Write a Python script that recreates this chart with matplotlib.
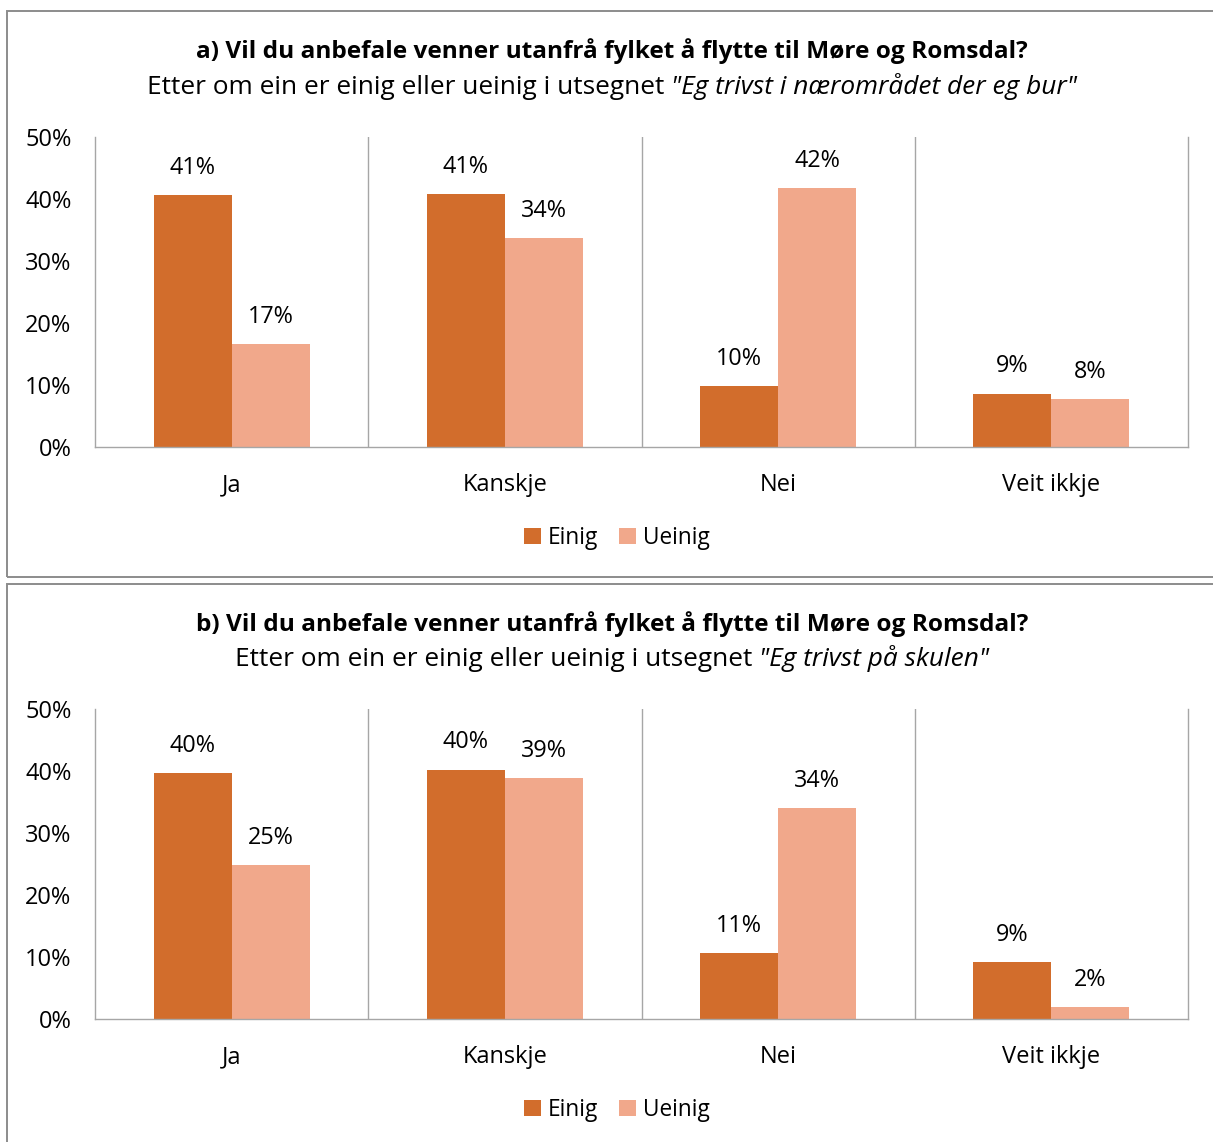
import matplotlib
matplotlib.use("Agg")
import matplotlib.pyplot as plt
from matplotlib.patches import Rectangle
import numpy as np

plt.rcParams['font.family'] = ['Open Sans', 'DejaVu Sans']

# data
categories = ["Ja", "Kanskje", "Nei", "Veit ikkje"]
series = ["Einig", "Ueinig"]
a_einig = [40.6, 40.8, 9.8, 8.6]
a_ueinig = [16.6, 33.7, 41.8, 7.7]
b_einig = [39.7, 40.2, 10.6, 9.2]
b_ueinig = [24.8, 38.9, 34.0, 1.9]
titles = ["a) Vil du anbefale venner utanfrå fylket å flytte til Møre og Romsdal?",
          "b) Vil du anbefale venner utanfrå fylket å flytte til Møre og Romsdal?"]
sub_plain = "Etter om ein er einig eller ueinig i utsegnet "
sub_italic = ['"Eg trivst i nærområdet der eg bur"', '"Eg trivst på skulen"']
yticks = [0, 10, 20, 30, 40, 50]

col_einig = "#D26D2C"
col_ueinig = "#F1A88B"
grid_col = "#A6A6A6"

W, H = 1213, 1142
fig = plt.figure(figsize=(W / 100, H / 100), dpi=100)

def fx(px):
    return px / W

def fy(py):
    return 1 - py / H

# panel borders
for top, bot in [(11, 577), (584, 1150)]:
    fig.patches.append(Rectangle((fx(7), fy(bot)), fx(1230 - 7), (bot - top) / H,
                                 transform=fig.transFigure, fill=False,
                                 edgecolor="#8C8C8C", lw=1.4))

renderer = fig.canvas.get_renderer()

def subtitle(y, italic):
    t1 = fig.text(0, fy(y), sub_plain, fontsize=18.9, va="center", ha="left")
    t2 = fig.text(0, fy(y), italic, fontsize=18.9, va="center", ha="left", style="italic")
    w1 = t1.get_window_extent(renderer).width
    w2 = t2.get_window_extent(renderer).width
    x0 = 612 - (w1 + w2) / 2
    t1.set_x(fx(x0))
    t2.set_x(fx(x0 + w1))

panels = [(a_einig, a_ueinig, 447, 51, 87, 538),
          (b_einig, b_ueinig, 1019, 624, 659, 1110)]

x = np.arange(len(categories))
bw = 78 / 273

for k, (ein, uein, y0, ty, sy, ly) in enumerate(panels):
    fig.text(fx(612), fy(ty), titles[k], fontsize=17.6, fontweight="bold",
             ha="center", va="center")
    subtitle(sy, sub_italic[k])

    ax = fig.add_axes([fx(95), fy(y0), fx(1188 - 95), 310 / H])
    b1 = ax.bar(x - bw / 2, ein, bw, color=col_einig, label=series[0])
    b2 = ax.bar(x + bw / 2, uein, bw, color=col_ueinig, label=series[1])
    for bars, vals in [(b1, ein), (b2, uein)]:
        for r, v in zip(bars, vals):
            ax.annotate(f"{round(v):d}%", (r.get_x() + r.get_width() / 2, v),
                        xytext=(0, 11), textcoords="offset points",
                        ha="center", va="bottom", fontsize=16.8)
    ax.set_xlim(-0.5, 3.5)
    ax.set_ylim(0, 50)
    ax.set_yticks(yticks)
    ax.set_yticklabels([f"{t}%" for t in yticks], fontsize=17)
    ax.set_xticks(x)
    ax.set_xticklabels(categories, fontsize=17)
    ax.tick_params(axis="both", length=0)
    ax.tick_params(axis="x", pad=19)
    ax.tick_params(axis="y", pad=17)
    for i in [0.5, 1.5, 2.5]:
        ax.axvline(i, color=grid_col, lw=1)
    ax.spines["top"].set_visible(False)
    for s in ["left", "right", "bottom"]:
        ax.spines[s].set_color(grid_col)
        ax.spines[s].set_linewidth(1)
    ax.legend(loc="center", bbox_to_anchor=(fx(617), fy(ly)),
              bbox_transform=fig.transFigure, ncol=2, frameon=False,
              fontsize=16.3, handlelength=0.75, handleheight=0.75,
              handletextpad=0.3, columnspacing=0.9)

fig.savefig("out.png", dpi=100, facecolor="white")
